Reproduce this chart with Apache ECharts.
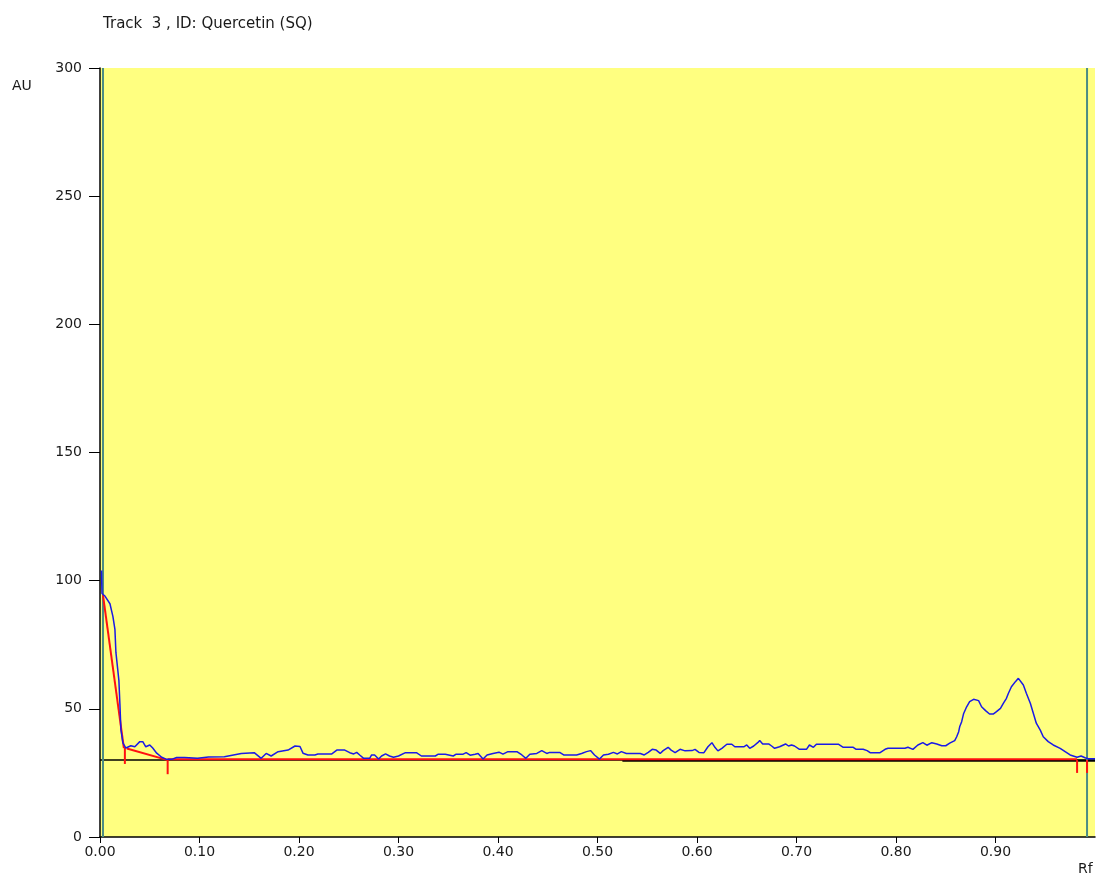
<!DOCTYPE html>
<html>
<head>
<meta charset="utf-8">
<script src="https://cdn.jsdelivr.net/npm/echarts@6/dist/echarts.min.js"></script>
<style>
  html, body { margin: 0; padding: 0; background: #ffffff; }
  #chart { width: 1100px; height: 878px; }
</style>
</head>
<body>
<div id="chart"></div>
<script>
// Densitogram of track 3 (Quercetin standard), absorbance vs Rf
const rf = [
  0.0015, 0.002, 0.005, 0.010, 0.013, 0.015, 0.016, 0.019, 0.020, 0.021, 0.023, 0.026,
  0.031, 0.035, 0.040, 0.043, 0.046, 0.050, 0.053, 0.057, 0.062, 0.067, 0.072, 0.077,
  0.085, 0.098, 0.109, 0.125, 0.142, 0.155, 0.162, 0.167, 0.172, 0.179, 0.189, 0.196,
  0.201, 0.204, 0.209, 0.216, 0.219, 0.233, 0.238, 0.246, 0.251, 0.255, 0.258, 0.261,
  0.265, 0.271, 0.273, 0.276, 0.280, 0.283, 0.287, 0.291, 0.295, 0.300, 0.302, 0.307,
  0.318, 0.323, 0.337, 0.340, 0.347, 0.348, 0.355, 0.358, 0.365, 0.368, 0.372, 0.377,
  0.380, 0.385, 0.389, 0.395, 0.401, 0.405, 0.410, 0.419, 0.424, 0.428, 0.432, 0.439,
  0.444, 0.449, 0.452, 0.462, 0.466, 0.479, 0.484, 0.489, 0.493, 0.497, 0.502, 0.506,
  0.511, 0.516, 0.520, 0.524, 0.529, 0.543, 0.547, 0.551, 0.555, 0.559, 0.563, 0.566,
  0.571, 0.574, 0.578, 0.583, 0.588, 0.595, 0.598, 0.602, 0.607, 0.611, 0.615, 0.618,
  0.621, 0.625, 0.630, 0.635, 0.638, 0.647, 0.650, 0.653, 0.657, 0.661, 0.663, 0.666,
  0.672, 0.675, 0.678, 0.683, 0.689, 0.692, 0.695, 0.698, 0.703, 0.710, 0.713, 0.717,
  0.720, 0.742, 0.747, 0.757, 0.760, 0.767, 0.771, 0.774, 0.784, 0.789, 0.792, 0.803,
  0.809, 0.812, 0.817, 0.822, 0.827, 0.831, 0.836, 0.841, 0.846, 0.850, 0.854, 0.859,
  0.861, 0.863, 0.864, 0.866, 0.868, 0.871, 0.874, 0.878, 0.883, 0.886, 0.890, 0.894,
  0.898, 0.901, 0.905, 0.908, 0.911, 0.913, 0.916, 0.920, 0.923, 0.925, 0.928, 0.931,
  0.935, 0.938, 0.941, 0.945, 0.948, 0.953, 0.958, 0.965, 0.970, 0.975, 0.982, 0.986,
  0.988, 0.990, 0.993, 1.000
];
const au = [
  104.0, 95.0, 94.0, 91.0, 86.0, 81.0, 72.0, 61.0, 52.0, 42.0, 36.7, 34.7,
  35.6, 35.2, 37.2, 37.2, 35.2, 35.9, 34.7, 32.7, 31.1, 30.3, 30.3, 31.0,
  31.0, 30.7, 31.2, 31.3, 32.6, 32.9, 30.7, 32.6, 31.6, 33.3, 33.9, 35.5,
  35.3, 32.7, 32.0, 32.0, 32.4, 32.4, 33.9, 33.9, 32.9, 32.4, 33.0, 32.0,
  30.7, 30.7, 32.0, 32.0, 30.4, 31.6, 32.4, 31.6, 31.1, 31.6, 32.3, 32.9,
  32.9, 31.6, 31.6, 32.3, 32.3, 31.6, 31.6, 32.3, 32.3, 32.9, 31.9, 32.3,
  32.6, 30.4, 32.0, 32.6, 33.1, 32.3, 33.3, 33.3, 32.0, 30.7, 32.3, 32.6,
  33.7, 32.6, 33.0, 33.0, 32.0, 32.0, 32.6, 33.3, 33.7, 32.0, 30.4, 32.0,
  32.3, 33.0, 32.4, 33.3, 32.6, 32.6, 32.0, 33.0, 34.2, 33.9, 32.6, 33.7,
  35.0, 33.9, 32.9, 34.2, 33.6, 33.7, 34.2, 33.0, 32.9, 35.2, 36.8, 35.0,
  33.6, 34.6, 36.2, 36.2, 35.2, 35.2, 35.9, 34.6, 35.5, 36.8, 37.6, 36.3,
  36.3, 35.5, 34.6, 35.2, 36.3, 35.5, 35.9, 35.5, 34.2, 34.2, 35.9, 35.0,
  36.2, 36.2, 35.0, 35.0, 34.2, 34.2, 33.7, 32.9, 32.9, 34.2, 34.6, 34.6,
  34.6, 35.0, 34.2, 35.9, 36.8, 35.8, 36.8, 36.3, 35.6, 35.6, 36.6, 37.6,
  39.1, 41.1, 43.0, 45.0, 48.2, 50.8, 52.8, 53.7, 53.2, 50.8, 49.3, 48.0,
  48.0, 48.9, 50.2, 52.2, 54.1, 56.1, 58.6, 60.6, 61.9, 61.3, 59.3, 56.1,
  52.2, 48.3, 44.4, 41.7, 39.1, 37.2, 35.9, 34.6, 33.3, 32.0, 31.1, 31.6,
  32.0, 30.9, 30.5, 30.5
];

// Integration baselines (red)
const startBaseRf = [0.003, 0.024];
const startBaseAu = [94.4, 34.7];
const secondBaseRf = [0.027, 0.068];
const secondBaseAu = [34.5, 30.0];
const mainBaseRf = [0.068, 0.982];
const mainBaseAu = [30.3, 30.3];

// Peak start/end markers (red ticks)
const markerRf = [0.025, 0.068, 0.982, 0.992];
const markerTop = [35.0, 30.0, 30.0, 30.0];
const markerBottom = [28.5, 24.5, 25.0, 25.0];

// Detector zero level (black) and track limits (vertical lines)
const zeroLevel = 30;
const zeroLevelHeavyFrom = 0.525;
const trackLimits = [0.003, 0.992];

// Axis ticks
const xTicks = [0.0, 0.1, 0.2, 0.3, 0.4, 0.5, 0.6, 0.7, 0.8, 0.9];
const yMin = 0, yMax = 300, yStep = 50;
const xMin = 0, xMax = 1.0;

const textColor = '#1a1a1a';
const font = 'DejaVu Sans';

function pairs(xs, ys) { return xs.map((x, i) => [x, ys[i]]); }

const lineBase = {
  type: 'line', showSymbol: false, symbol: 'none', silent: true,
  animation: false, smooth: false
};

const series = [];

// black zero level
series.push(Object.assign({}, lineBase, {
  data: [[xMin, zeroLevel], [xMax, zeroLevel]],
  lineStyle: { color: '#000000', width: 1.5 }, z: 2
}));
series.push(Object.assign({}, lineBase, {
  data: [[zeroLevelHeavyFrom, zeroLevel - 0.3], [xMax, zeroLevel - 0.3]],
  lineStyle: { color: '#000000', width: 2 }, z: 2
}));

// track limit lines
trackLimits.forEach(x => {
  series.push(Object.assign({}, lineBase, {
    data: [[x, yMin], [x, yMax]],
    lineStyle: { color: '#4b8c84', width: 2 }, z: 2
  }));
});

// red baselines
[[startBaseRf, startBaseAu], [secondBaseRf, secondBaseAu], [mainBaseRf, mainBaseAu]].forEach(([xs, ys]) => {
  series.push(Object.assign({}, lineBase, {
    data: pairs(xs, ys),
    lineStyle: { color: '#ff1010', width: 2 }, z: 3
  }));
});

// red markers
markerRf.forEach((x, i) => {
  series.push(Object.assign({}, lineBase, {
    data: [[x, markerTop[i]], [x, markerBottom[i]]],
    lineStyle: { color: '#ff1010', width: 2 }, z: 3
  }));
});

// densitogram trace
series.push(Object.assign({}, lineBase, {
  data: pairs(rf, au),
  lineStyle: { color: '#1a1ae6', width: 1.5 }, z: 4
}));

const chart = echarts.init(document.getElementById('chart'), null, { renderer: 'canvas' });
chart.setOption({
  animation: false,
  backgroundColor: '#ffffff',
  title: {
    text: 'Track  3 , ID: Quercetin (SQ)',
    left: 98, top: 12,
    textStyle: { fontFamily: font, fontSize: 15, fontWeight: 'normal', color: textColor }
  },
  graphic: [
    { type: 'text', left: 12, top: 79, style: { text: 'AU', font: '14px "DejaVu Sans"', fill: textColor } },
    { type: 'text', left: 1078, top: 862, style: { text: 'Rf', font: '14px "DejaVu Sans"', fill: textColor } }
  ],
  grid: {
    left: 100, top: 68, right: 5, bottom: 41,
    show: true, backgroundColor: '#ffff80', borderWidth: 0
  },
  xAxis: {
    type: 'value', min: xMin, max: xMax,
    splitLine: { show: false },
    axisLine: { show: true, onZero: false, lineStyle: { color: '#000000', width: 1.5 } },
    axisTick: { show: true, inside: false, length: 6, customValues: xTicks, lineStyle: { color: '#000000' } },
    axisLabel: {
      customValues: xTicks, margin: 8,
      formatter: v => v.toFixed(2),
      fontFamily: font, fontSize: 14, color: textColor
    }
  },
  yAxis: {
    type: 'value', min: yMin, max: yMax, interval: yStep,
    splitLine: { show: false },
    axisLine: { show: true, lineStyle: { color: '#000000', width: 1.5 } },
    axisTick: { show: true, inside: false, length: 11, lineStyle: { color: '#000000' } },
    axisLabel: { margin: 18, fontFamily: font, fontSize: 14, color: textColor }
  },
  series: series
});
</script>
</body>
</html>
